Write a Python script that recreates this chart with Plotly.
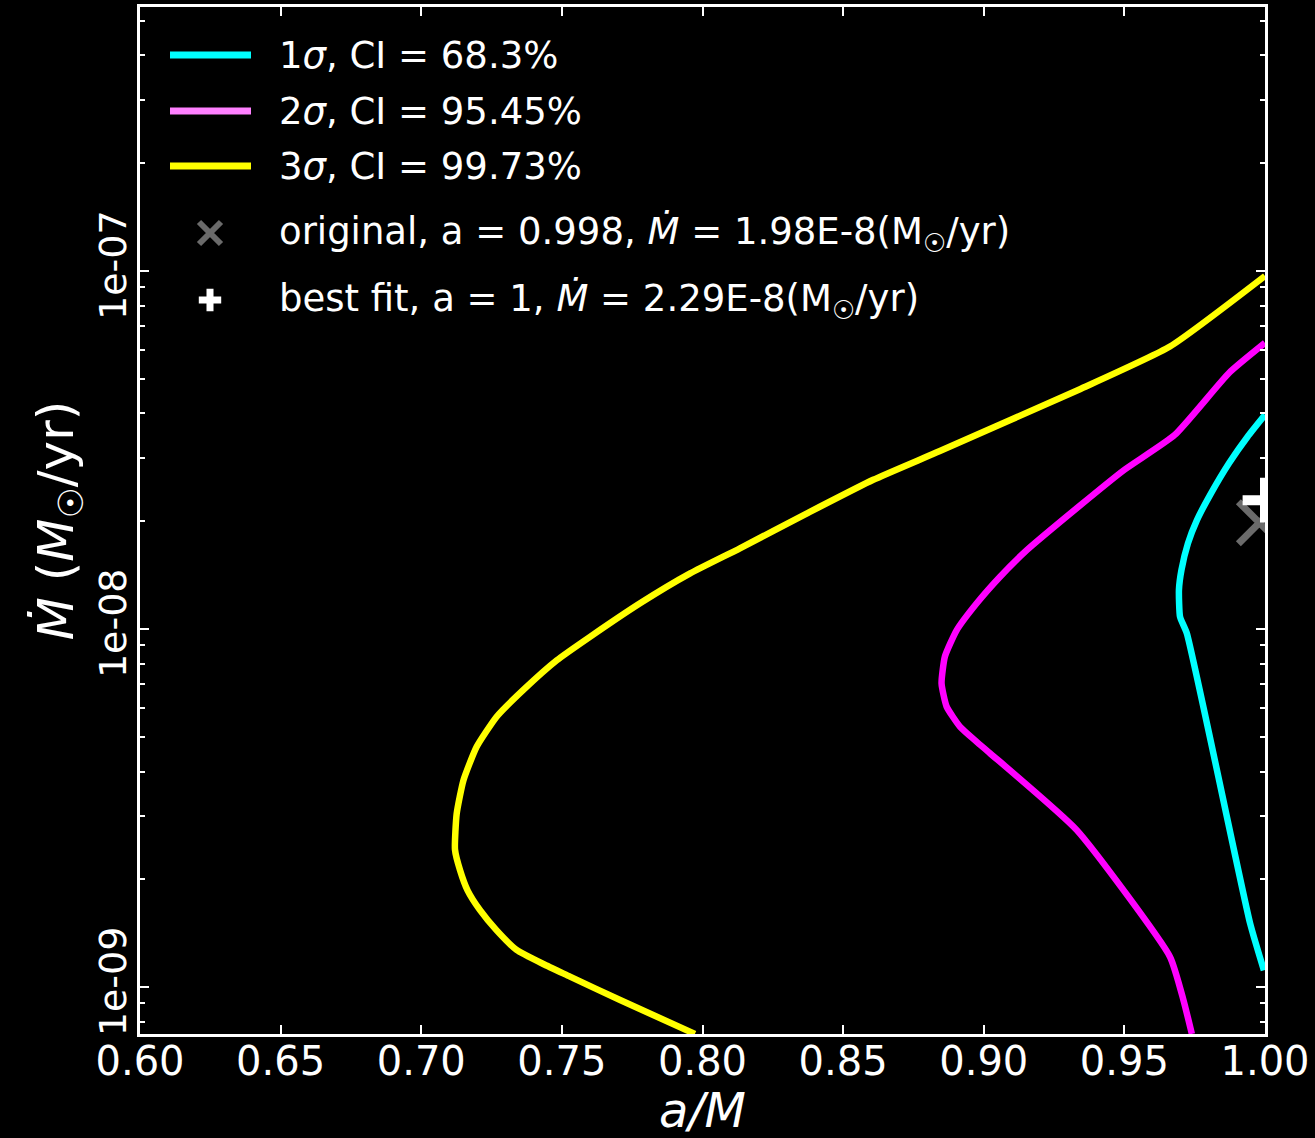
import plotly.graph_objects as go

# Confidence contours in the (spin, accretion-rate) plane
# spin a/M and accretion rate Mdot (M_sun/yr)
a_1sigma = [0.9996, 0.9947, 0.9722, 0.9698, 0.9694, 0.9703, 0.9726, 0.9758, 0.9808,
            0.9872, 0.9938, 1.0]
mdot_1sigma = [1.114e-9, 1.507e-9, 9.73e-9, 1.081e-8, 1.285e-8, 1.462e-8, 1.734e-8,
               2.014e-8, 2.393e-8, 2.904e-8, 3.443e-8, 3.963e-8]

a_2sigma = [0.9740, 0.9710, 0.9662, 0.9330, 0.9022, 0.8975, 0.8916, 0.8868, 0.8850,
            0.8862, 0.8904, 0.8975, 0.9058, 0.9153, 0.9338, 0.9499, 0.9679, 0.9872, 1.0]
mdot_2sigma = [7.40e-10, 9.20e-10, 1.216e-9, 2.748e-9, 4.50e-9, 4.84e-9, 5.33e-9,
               6.07e-9, 7.05e-9, 8.38e-9, 9.93e-9, 1.18e-8, 1.40e-8, 1.66e-8,
               2.198e-8, 2.78e-8, 3.483e-8, 5.188e-8, 6.295e-8]

a_3sigma = [0.7973, 0.7707, 0.7529, 0.7434, 0.7339, 0.7268, 0.7209, 0.7165, 0.7138,
            0.7120, 0.7126, 0.7150, 0.7197, 0.7268, 0.7363, 0.7482, 0.7600, 0.7778,
            0.7956, 0.8133, 0.8370, 0.8607, 0.8844, 0.9338, 0.9662, 1.0]
mdot_3sigma = [7.40e-10, 9.20e-10, 1.07e-9, 1.16e-9, 1.27e-9, 1.44e-9, 1.64e-9,
               1.86e-9, 2.12e-9, 2.42e-9, 3.05e-9, 3.78e-9, 4.69e-9, 5.69e-9,
               6.76e-9, 8.18e-9, 9.51e-9, 1.18e-8, 1.43e-8, 1.68e-8, 2.10e-8,
               2.61e-8, 3.14e-8, 4.66e-8, 6.15e-8, 9.68e-8]

# reference points
a_original, mdot_original = 0.998, 1.98e-8
a_best, mdot_best = 1.0, 2.29e-8

legend_labels = [
    "1<i>σ</i>, CI = 68.3%",
    "2<i>σ</i>, CI = 95.45%",
    "3<i>σ</i>, CI = 99.73%",
    "original, a = 0.998, <i>Ṁ</i> = 1.98E-8(M<sub>☉</sub>/yr)",
    "best fit, a = 1, <i>Ṁ</i> = 2.29E-8(M<sub>☉</sub>/yr)",
]

x_ticks = [0.60, 0.65, 0.70, 0.75, 0.80, 0.85, 0.90, 0.95, 1.00]
y_ticks = [1e-9, 1e-8, 1e-7]
y_ticktext = ["1e-09", "1e-08", "1e-07"]

FONT = "DejaVu Sans"
CYAN, MAGENTA, YELLOW = "#00ffff", "#ff00ff", "#ffff00"
GREY = "#6b6b6b"

fig = go.Figure()

for a_vals, m_vals, col in [(a_3sigma, mdot_3sigma, YELLOW),
                            (a_2sigma, mdot_2sigma, MAGENTA),
                            (a_1sigma, mdot_1sigma, CYAN)]:
    fig.add_trace(go.Scatter(x=a_vals, y=m_vals, mode="lines",
                             line=dict(color=col, width=6.5, shape="spline", smoothing=0.5),
                             showlegend=False))

fig.add_trace(go.Scatter(x=[a_original], y=[mdot_original], mode="markers",
                         marker=dict(symbol="x-thin", size=42,
                                     line=dict(color=GREY, width=7)),
                         showlegend=False))
fig.add_trace(go.Scatter(x=[a_best], y=[mdot_best], mode="markers",
                         marker=dict(symbol="cross-thin", size=32,
                                     line=dict(color="white", width=10)),
                         showlegend=False))

# hand-built legend (paper coordinates)
L, R, B, T = 140, 1265, 1034, 7
W, H = R - L, B - T


def px(x):
    return (x - L) / W


def py(y):
    return (B - y) / H


rows = [55, 111, 166, 233, 300]
line_cols = [CYAN, "#ff80ff", YELLOW]
for yy, col in zip(rows[:3], line_cols):
    fig.add_shape(type="line", xref="paper", yref="paper",
                  x0=px(170), x1=px(251), y0=py(yy), y1=py(yy),
                  line=dict(color=col, width=7))

fig.add_trace(go.Scatter(x=[px(210)], y=[py(rows[3])], xaxis="x2", yaxis="y2",
                         mode="markers", cliponaxis=False, showlegend=False,
                         marker=dict(symbol="x-thin", size=22,
                                     line=dict(color=GREY, width=6))))
fig.add_trace(go.Scatter(x=[px(210)], y=[py(rows[4])], xaxis="x2", yaxis="y2",
                         mode="markers", cliponaxis=False, showlegend=False,
                         marker=dict(symbol="cross-thin", size=16,
                                     line=dict(color="white", width=7))))

for yy, txt in zip(rows, legend_labels):
    fig.add_annotation(x=px(277), y=py(yy + 1), xref="paper", yref="paper",
                       text=txt, showarrow=False, xanchor="left", yanchor="middle",
                       font=dict(family=FONT, size=37, color="white"))

axis_common = dict(showline=True, linecolor="white", linewidth=2.5, mirror="allticks",
                   ticks="inside", ticklen=9, tickwidth=2, tickcolor="white",
                   showgrid=False, zeroline=False, automargin=False)

fig.update_layout(
    width=1315, height=1138,
    paper_bgcolor="black", plot_bgcolor="black",
    margin=dict(l=L, r=1315 - R, t=T, b=1138 - B),
    font=dict(family=FONT, color="white"),
    xaxis=dict(range=[0.6, 1.0], tickvals=x_ticks, tickformat=".2f",
               tickfont=dict(size=40, color="white"), ticklabelstandoff=-10,
               title=dict(text="<i>a/M</i>", font=dict(size=48, color="white"), standoff=18),
               **axis_common),
    yaxis=dict(type="log", range=[-9.131, -6.263], tickvals=y_ticks, ticktext=y_ticktext,
               tickangle=-90, tickfont=dict(size=38, color="white"), ticklabelstandoff=-4,
               minor=dict(ticks="inside", ticklen=5, tickwidth=2, tickcolor="white",
                          tickvals=[k * 10.0 ** e for e in (-10, -9, -8, -7)
                                    for k in range(2, 10)]),
               title=dict(text="<i>Ṁ</i> (<i>M</i><sub>☉</sub>/yr)",
                          font=dict(size=50, color="white"), standoff=2),
               **axis_common),
    xaxis2=dict(overlaying="x", range=[0, 1], visible=False),
    yaxis2=dict(overlaying="y", range=[0, 1], visible=False),
)

fig.write_html("out.html")
